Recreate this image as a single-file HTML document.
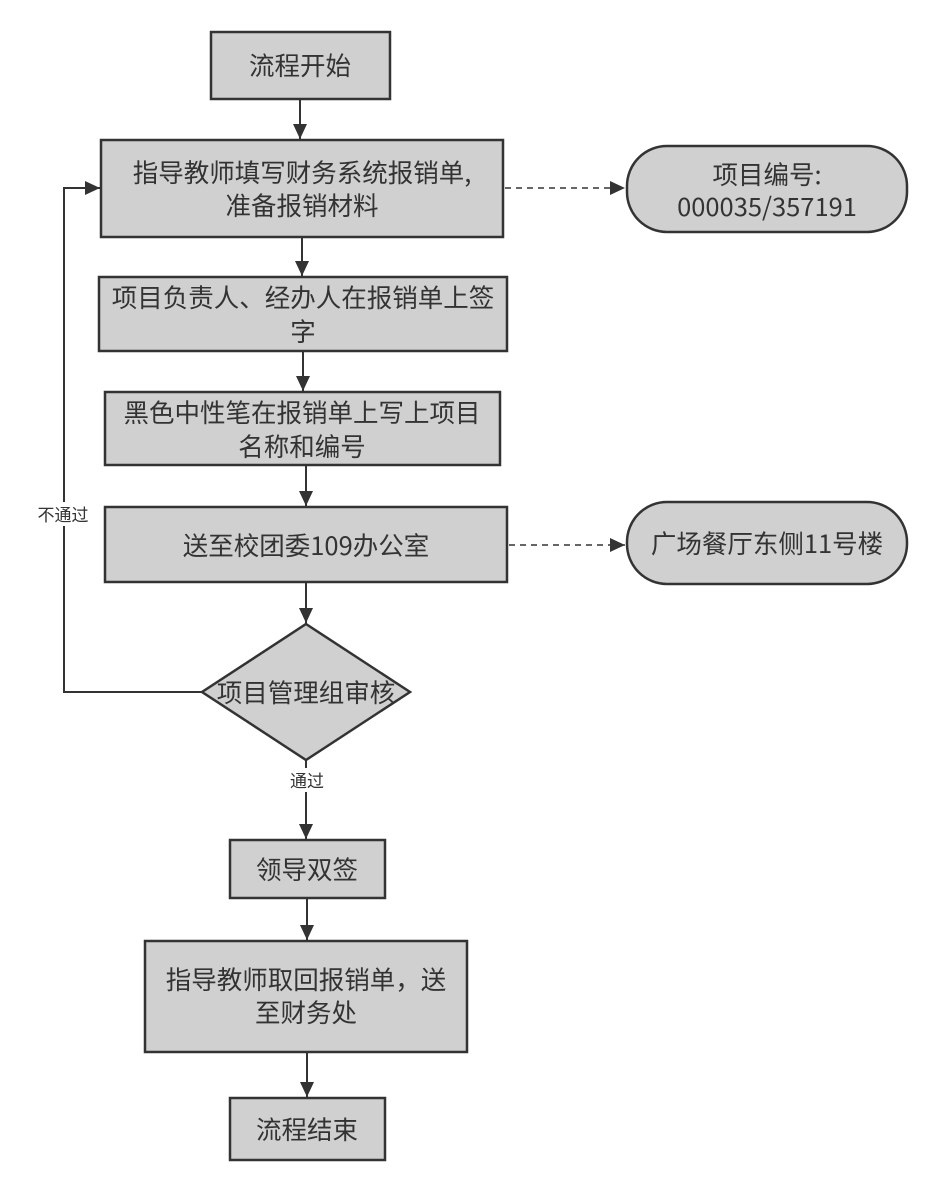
<!DOCTYPE html>
<html><head><meta charset="utf-8"><style>
html,body{margin:0;padding:0;background:#fff}
svg{display:block}
text{font-family:"Noto Sans CJK SC",sans-serif;fill:#333;font-size:25.5px;text-anchor:middle}
.b{fill:#d0d0d0;stroke:#333;stroke-width:2.5}
.l{stroke:#333;stroke-width:2;fill:none}
.d{stroke:#333;stroke-width:1.5;fill:none;stroke-dasharray:6 5}
</style></head><body>
<svg width="940" height="1191" viewBox="0 0 940 1191">
<defs><marker id="a2" markerWidth="16" markerHeight="14" refX="15" refY="7" orient="auto" markerUnits="userSpaceOnUse"><path d="M0,0 L15,7 L0,14z" fill="#333"/></marker></defs>
<rect class="b" x="211" y="32" width="179" height="67"/><text x="300" y="75">流程开始</text>
<rect class="b" x="101" y="140" width="402" height="97"/><text x="302" y="182">指导教师填写财务系统报销单,</text><text x="302" y="215">准备报销材料</text>
<rect class="b" x="99" y="277" width="408" height="74"/><text x="303" y="307">项目负责人、经办人在报销单上签</text><text x="303" y="341">字</text>
<rect class="b" x="105" y="392" width="395" height="73"/><text x="302" y="422">黑色中性笔在报销单上写上项目</text><text x="302" y="456">名称和编号</text>
<rect class="b" x="105" y="507" width="402" height="75"/><text x="306" y="555">送至校团委109办公室</text>
<polygon class="b" points="306,624 410,692 306,760 202,692"/><text x="306" y="702">项目管理组审核</text>
<rect class="b" x="230" y="840" width="155" height="58"/><text x="307" y="879">领导双签</text>
<rect class="b" x="145" y="941" width="322" height="111"/><text x="306" y="989">指导教师取回报销单，送</text><text x="306" y="1022">至财务处</text>
<rect class="b" x="230" y="1098" width="155" height="62"/><text x="307" y="1139">流程结束</text>
<rect class="b" x="627" y="146" width="280" height="86" rx="40"/><text x="767" y="184">项目编号:</text><text x="767" y="216">000035/357191</text>
<rect class="b" x="627" y="502" width="280" height="82" rx="40"/><text x="767" y="553">广场餐厅东侧11号楼</text>
<g class="l">
<line x1="300" y1="99" x2="300" y2="139" marker-end="url(#a2)"/>
<line x1="302" y1="237" x2="302" y2="276" marker-end="url(#a2)"/>
<line x1="303" y1="351" x2="303" y2="391" marker-end="url(#a2)"/>
<line x1="306" y1="465" x2="306" y2="506" marker-end="url(#a2)"/>
<line x1="306" y1="582" x2="306" y2="623" marker-end="url(#a2)"/>
<line x1="306" y1="760" x2="306" y2="839" marker-end="url(#a2)"/>
<line x1="307" y1="898" x2="307" y2="940" marker-end="url(#a2)"/>
<line x1="307" y1="1052" x2="307" y2="1097" marker-end="url(#a2)"/>
<polyline points="202,692 64,692 64,188 100,188" marker-end="url(#a2)"/>
</g>
<line class="d" x1="505" y1="188" x2="625" y2="188" marker-end="url(#a2)"/>
<line class="d" x1="509" y1="545" x2="625" y2="545" marker-end="url(#a2)"/>
<rect x="28" y="502" width="70" height="24" fill="#fff"/><text x="63" y="521" style="font-size:17px">不通过</text>
<rect x="284" y="768" width="46" height="24" fill="#fff"/><text x="307" y="787" style="font-size:17px">通过</text>
</svg>
</body></html>
